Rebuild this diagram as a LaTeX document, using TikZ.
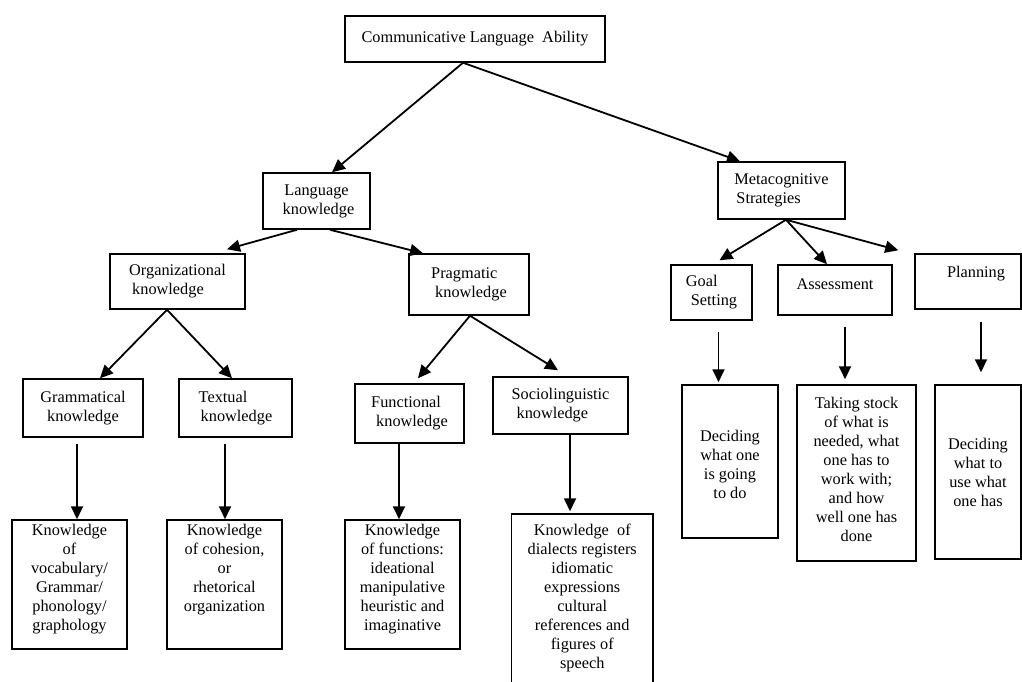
\documentclass[tikz,border=0pt]{standalone}
\usepackage{fontspec}
\setmainfont{Liberation Serif}
\usetikzlibrary{arrows.meta,calc}
\begin{document}
\begin{tikzpicture}[x=1pt,y=-1pt,
  box/.style={draw,line width=1.5pt,inner sep=0pt,align=center,
    font=\fontsize{16.3pt}{19pt}\selectfont},
  lbox/.style={box,align=left},
  arr/.style={line width=1.8pt,-{Triangle[length=13pt,width=12pt]}}]
\useasboundingbox (0,0) rectangle (1022,681);
% level 0
\node[box,minimum width=260pt,minimum height=46pt] (cla) at (475,39) {Communicative Language\ \ Ability};
% level 1
\node[box,minimum width=107pt,minimum height=56pt] (lk) at (316.5,201) {Language\\\hspace*{4pt}knowledge};
\node[lbox,minimum width=127pt,minimum height=57pt] (ms) at (781.5,190.5) {Metacognitive\\\hspace*{2pt}Strategies};
% level 2
\node[lbox,minimum width=135pt,minimum height=55pt] (ok) at (177.5,281.5) {Organizational\\\hspace*{3pt}knowledge};
\node[lbox,minimum width=120pt,minimum height=61pt] (pk) at (469,284.5) {Pragmatic\\\hspace*{4pt}knowledge};
\node[lbox,minimum width=81pt,minimum height=55pt] (gs) at (711.5,292.5) {Goal\\\hspace*{5pt}Setting};
\node[box,minimum width=114pt,minimum height=50pt] (as) at (835,290) {Assessment\\[-7pt]\mbox{}};
\node[box,minimum width=106pt,minimum height=55pt] (pl) at (968,281.5) {\hspace*{16pt}Planning\\\mbox{}};
% level 3
\node[box,minimum width=120pt,minimum height=58pt] (gk) at (83,408) {Grammatical\\knowledge};
\node[lbox,minimum width=113pt,minimum height=58pt] (tk) at (235.5,408) {Textual\\\hspace*{2pt}knowledge};
\node[lbox,minimum width=109pt,minimum height=59pt] (fk) at (409.5,413.5) {Functional\\\hspace*{5pt}knowledge};
\node[lbox,minimum width=135pt,minimum height=57pt] (sk) at (560.5,405.5) {Sociolinguistic\\\hspace*{5pt}knowledge};
% level 4
\node[box,minimum width=115pt,minimum height=129pt] (b1) at (69.5,584.5) {Knowledge\\of\\vocabulary/\\Grammar/\\phonology/\\graphology\\[-5pt]\mbox{}};
\node[box,minimum width=115pt,minimum height=129pt] (b2) at (224.5,584.5) {Knowledge\\of cohesion,\\or\\rhetorical\\organization\\[14pt]\mbox{}};
\node[box,minimum width=115pt,minimum height=129pt] (b3) at (402.5,584.5) {Knowledge\\of functions:\\ideational\\manipulative\\heuristic and\\imaginative\\[-5pt]\mbox{}};
\node[box,minimum width=141.5pt,minimum height=168.8pt] (b4) at (582.25,598.4) {Knowledge\ \ of\\dialects registers\\idiomatic\\expressions\\cultural\\references and\\figures of\\speech};
\node[box,minimum width=96pt,minimum height=153pt] (d1) at (730,461.5) {\mbox{}\\[-1pt]Deciding\\what one\\is going\\to do};
\node[box,minimum width=119pt,minimum height=176pt] (d2) at (856.5,473) {Taking stock\\of what is\\needed, what\\one has to\\work with;\\and how\\well one has\\done\\[-11pt]\mbox{}};
\node[box,minimum width=86pt,minimum height=174pt] (d3) at (978,472) {Deciding\\what to\\use what\\one has};
% connectors
\draw[arr] ($(cla.south)+(-12,0)$) -- ($(lk.north)+(15.5,0)$);
\draw[arr] ($(cla.south)+(-12,0)$) -- ($(ms.north)+(-41.5,0)$);
\draw[arr] ($(lk.south)+(-19.5,0)$) -- ($(ok.north)+(49.5,-4)$);
\draw[arr] ($(lk.south)+(13.5,0)$) -- ($(pk.north)+(-46,0)$);
\draw[arr] ($(ok.south)+(-10.5,0)$) -- ($(gk.north)+(17,0)$);
\draw[arr] ($(ok.south)+(-10.5,0)$) -- ($(tk.north)+(-3.5,0)$);
\draw[arr] ($(pk.south)+(1,0)$) -- ($(fk.north)+(8.5,-5)$);
\draw[arr] ($(pk.south)+(1,0)$) -- ($(sk.north)+(-2.5,-6)$);
\draw[arr] ($(ms.south)+(4.5,0)$) -- ($(gs.north)+(8,-4)$);
\draw[arr] ($(ms.south)+(4.5,0)$) -- ($(as.north)+(-8,0)$);
\draw[arr] ($(ms.south)+(4.5,0)$) -- ($(pl.north west)+(-16,-3)$);
\draw[arr] ($(gk.south)+(-6,6)$) -- ($(b1.north)+(7.5,0)$);
\draw[arr] ($(tk.south)+(-10.5,6)$) -- ($(b2.north)+(0.5,0)$);
\draw[arr] ($(fk.south)+(-10.5,0)$) -- ($(b3.north)+(-3.5,0)$);
\draw[arr] ($(sk.south)+(9.5,0)$) -- ($(b4.north)+(-12.25,-2)$);
\draw[arr] ($(gs.south)+(7,11)$) -- ($(d1.north)+(-11.5,-2)$);
\draw[arr] ($(as.south)+(10,11)$) -- ($(d2.north)+(-11.5,-5)$);
\draw[arr] ($(pl.south)+(13,12)$) -- ($(d3.north)+(3,-12)$);
\end{tikzpicture}
\end{document}
